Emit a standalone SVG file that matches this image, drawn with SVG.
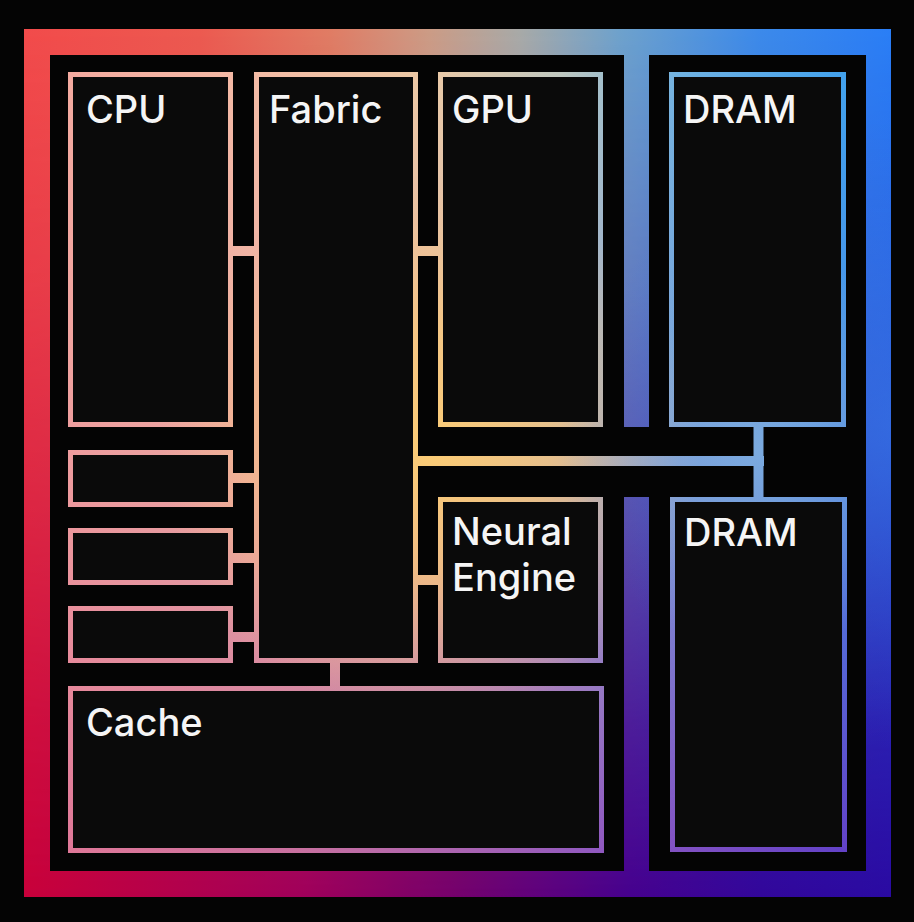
<svg xmlns="http://www.w3.org/2000/svg" width="914" height="922" viewBox="0 0 914 922">
<defs>
  <linearGradient id="fTop" gradientUnits="userSpaceOnUse" x1="24" y1="0" x2="891" y2="0">
    <stop offset="0" stop-color="#f24b4b"/>
    <stop offset="0.203" stop-color="#ec5a50"/>
    <stop offset="0.353" stop-color="#e07c64"/>
    <stop offset="0.468" stop-color="#cc9c86"/>
    <stop offset="0.572" stop-color="#a8aaa8"/>
    <stop offset="0.687" stop-color="#6ea2cc"/>
    <stop offset="0.849" stop-color="#3c8aea"/>
    <stop offset="1" stop-color="#2a7ef6"/>
  </linearGradient>
  <linearGradient id="fBot" gradientUnits="userSpaceOnUse" x1="24" y1="0" x2="891" y2="0">
    <stop offset="0" stop-color="#c8003a"/>
    <stop offset="0.32" stop-color="#a0005a"/>
    <stop offset="0.5" stop-color="#74006c"/>
    <stop offset="0.7" stop-color="#46008e"/>
    <stop offset="0.85" stop-color="#32069a"/>
    <stop offset="1" stop-color="#2a0aa2"/>
  </linearGradient>
  <linearGradient id="fV" gradientUnits="userSpaceOnUse" x1="0" y1="29" x2="0" y2="897">
    <stop offset="0" stop-color="#fff" stop-opacity="0"/>
    <stop offset="0.3" stop-color="#fff" stop-opacity="0.22"/>
    <stop offset="0.55" stop-color="#fff" stop-opacity="0.5"/>
    <stop offset="0.8" stop-color="#fff" stop-opacity="0.82"/>
    <stop offset="1" stop-color="#fff" stop-opacity="1"/>
  </linearGradient>
  <mask id="fMask" maskUnits="userSpaceOnUse" x="0" y="0" width="914" height="922">
    <rect width="914" height="922" fill="url(#fV)"/>
  </mask>
  <radialGradient id="fBlue" gradientUnits="userSpaceOnUse" cx="905" cy="430" r="320">
    <stop offset="0" stop-color="#3a7ce8" stop-opacity="0.6"/>
    <stop offset="0.5" stop-color="#3a78e4" stop-opacity="0.3"/>
    <stop offset="1" stop-color="#3a74e0" stop-opacity="0"/>
  </radialGradient>
  <pattern id="framePaint" patternUnits="userSpaceOnUse" x="0" y="0" width="914" height="922">
    <rect width="914" height="922" fill="url(#fTop)"/>
    <rect width="914" height="922" fill="url(#fBot)" mask="url(#fMask)"/>
    <rect width="914" height="922" fill="url(#fBlue)"/>
  </pattern>

  <linearGradient id="iTop" gradientUnits="userSpaceOnUse" x1="60" y1="0" x2="860" y2="0">
    <stop offset="0" stop-color="#f4aaa0"/>
    <stop offset="0.25" stop-color="#f4bca6"/>
    <stop offset="0.4625" stop-color="#eccaa6"/>
    <stop offset="0.625" stop-color="#c0c8c0"/>
    <stop offset="0.775" stop-color="#70b2e2"/>
    <stop offset="1" stop-color="#3ea0ee"/>
  </linearGradient>
  <linearGradient id="iBot" gradientUnits="userSpaceOnUse" x1="60" y1="0" x2="860" y2="0">
    <stop offset="0" stop-color="#e07898"/>
    <stop offset="0.3" stop-color="#c870a0"/>
    <stop offset="0.675" stop-color="#9058c0"/>
    <stop offset="1" stop-color="#6040c8"/>
  </linearGradient>
  <linearGradient id="iV" gradientUnits="userSpaceOnUse" x1="0" y1="72" x2="0" y2="853">
    <stop offset="0" stop-color="#fff" stop-opacity="0"/>
    <stop offset="0.35" stop-color="#fff" stop-opacity="0.15"/>
    <stop offset="0.6" stop-color="#fff" stop-opacity="0.4"/>
    <stop offset="0.8" stop-color="#fff" stop-opacity="0.7"/>
    <stop offset="1" stop-color="#fff" stop-opacity="1"/>
  </linearGradient>
  <mask id="iMask" maskUnits="userSpaceOnUse" x="0" y="0" width="914" height="922">
    <rect width="914" height="922" fill="url(#iV)"/>
  </mask>
  <radialGradient id="iGlow" gradientUnits="userSpaceOnUse" cx="430" cy="450" r="270">
    <stop offset="0" stop-color="#ffd070" stop-opacity="0.9"/>
    <stop offset="0.45" stop-color="#ffcc72" stop-opacity="0.65"/>
    <stop offset="1" stop-color="#ffc880" stop-opacity="0"/>
  </radialGradient>
  <radialGradient id="iBlue" gradientUnits="userSpaceOnUse" cx="760" cy="450" r="200">
    <stop offset="0" stop-color="#84b4e0" stop-opacity="0.75"/>
    <stop offset="0.5" stop-color="#86b2dc" stop-opacity="0.4"/>
    <stop offset="1" stop-color="#88b0d8" stop-opacity="0"/>
  </radialGradient>
  <pattern id="innerPaint" patternUnits="userSpaceOnUse" x="0" y="0" width="914" height="922">
    <rect width="914" height="922" fill="url(#iTop)"/>
    <rect width="914" height="922" fill="url(#iBot)" mask="url(#iMask)"/>
    <rect width="914" height="922" fill="url(#iGlow)"/>
    <rect width="914" height="922" fill="url(#iBlue)"/>
  </pattern>
</defs>
<style>
  .frame { fill: url(#framePaint); }
  .box { fill: #0a0a0a; stroke: url(#innerPaint); stroke-width: 5; }
  .wire { stroke: url(#innerPaint); stroke-width: 10; fill: none; }
  .lbl { font-family: Inter, "Liberation Sans", sans-serif; font-size: 38px; font-weight: 500; fill: #f5f5f5; }
</style>

<rect width="914" height="922" fill="#040404"/>

<g id="chip-frame">
  <path class="frame" fill-rule="evenodd" d="M24,29 H891 V897 H24 Z M50,55 V871 H866 V55 Z"/>
  <rect class="frame" x="624" y="55" width="25" height="372"/>
  <rect class="frame" x="624" y="497" width="25" height="374"/>
</g>

<g id="connectors">
  <line class="wire" x1="231" y1="251" x2="257" y2="251"/>
  <line class="wire" x1="415" y1="251" x2="443" y2="251"/>
  <line class="wire" x1="231" y1="478" x2="257" y2="478"/>
  <line class="wire" x1="231" y1="558" x2="257" y2="558"/>
  <line class="wire" x1="231" y1="637" x2="257" y2="637"/>
  <line class="wire" x1="415" y1="580" x2="443" y2="580"/>
  <line class="wire" x1="335" y1="660" x2="335" y2="689"/>
  <line class="wire" x1="415" y1="461" x2="764" y2="461"/>
  <line class="wire" x1="758.5" y1="424" x2="758.5" y2="500"/>
</g>

<g id="cpu">
  <rect class="box" x="70.5" y="74.5" width="160" height="350"/>
  <text class="lbl" x="86" y="123">CPU</text>
</g>
<g id="fabric">
  <rect class="box" x="256.5" y="74.5" width="159" height="586"/>
  <text class="lbl" x="269" y="123">Fabric</text>
</g>
<g id="gpu">
  <rect class="box" x="440.5" y="74.5" width="160" height="350"/>
  <text class="lbl" x="452" y="123">GPU</text>
</g>
<g id="dram-top">
  <rect class="box" x="671.5" y="74.5" width="172" height="350"/>
  <text class="lbl" x="683" y="123">DRAM</text>
</g>
<g id="io-1">
  <rect class="box" x="70.5" y="452.5" width="160" height="52"/>
</g>
<g id="io-2">
  <rect class="box" x="70.5" y="530.5" width="160" height="52"/>
</g>
<g id="io-3">
  <rect class="box" x="70.5" y="608.5" width="160" height="52"/>
</g>
<g id="neural-engine">
  <rect class="box" x="440.5" y="499.5" width="160" height="161"/>
  <text class="lbl" x="452" y="545">Neural</text>
  <text class="lbl" x="452" y="591">Engine</text>
</g>
<g id="dram-bottom">
  <rect class="box" x="672.5" y="499.5" width="172" height="350"/>
  <text class="lbl" x="684" y="546">DRAM</text>
</g>
<g id="cache">
  <rect class="box" x="70.5" y="688.5" width="531" height="162"/>
  <text class="lbl" x="86" y="736">Cache</text>
</g>
</svg>
